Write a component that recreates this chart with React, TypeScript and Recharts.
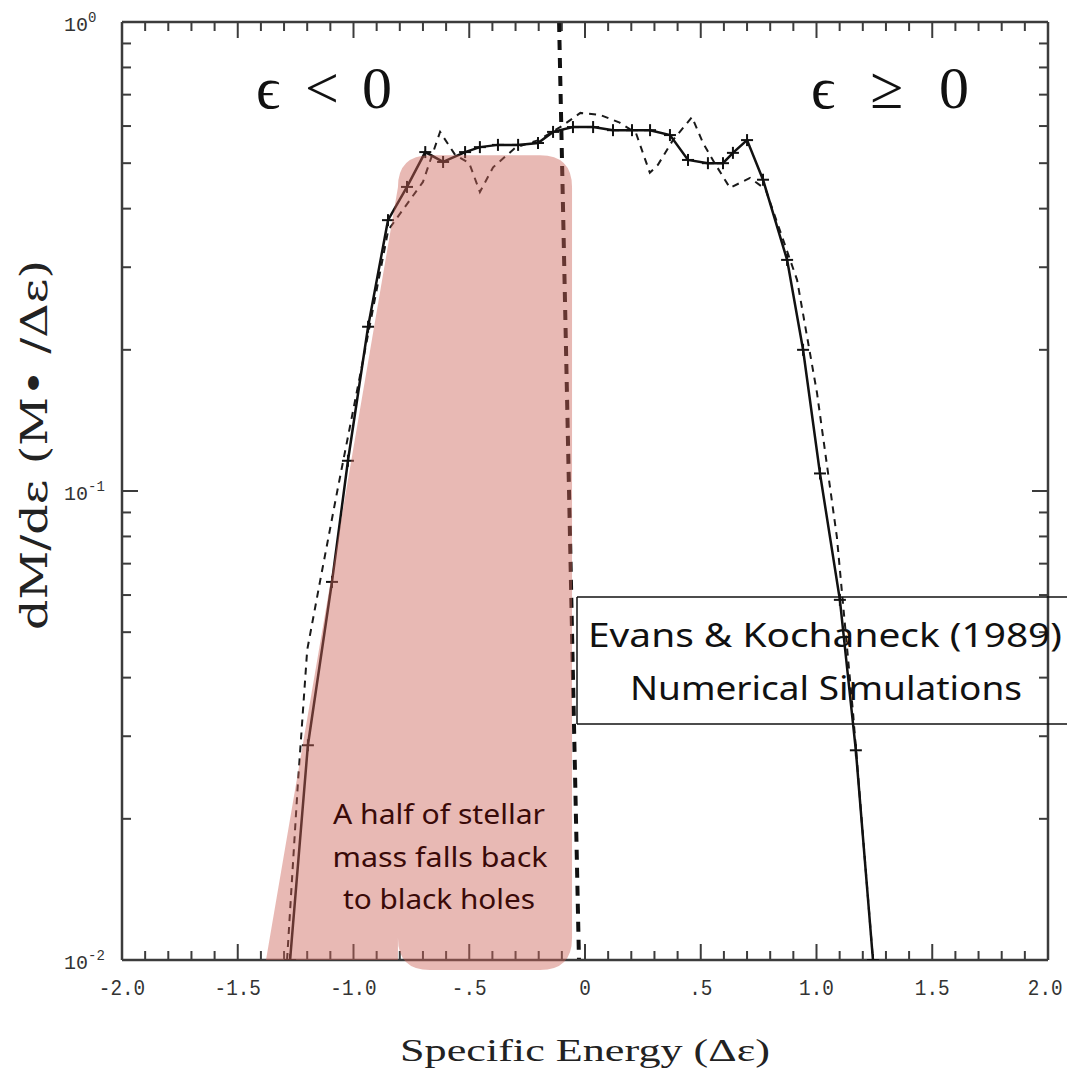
import { ComposedChart, Line, XAxis, YAxis, ReferenceArea, ReferenceLine } from 'recharts';

// Evans & Kochanek (1989) energy distribution of tidally disrupted debris
const solidEnergy = [
  -1.274, -1.197, -1.093, -1.024, -0.937, -0.851, -0.769, -0.69, -0.613, -0.518, -0.454,
  -0.376, -0.289, -0.203, -0.138, -0.052, 0.035, 0.121, 0.203, 0.281, 0.367, 0.445, 0.531,
  0.596, 0.639, 0.7, 0.769, 0.873, 0.942, 1.015, 1.101, 1.17, 1.244,
];
const solidMass = [
  0.01, 0.0287, 0.064, 0.116, 0.224, 0.378, 0.445, 0.528, 0.503, 0.528, 0.541,
  0.547, 0.547, 0.552, 0.583, 0.597, 0.597, 0.588, 0.588, 0.588, 0.574, 0.508, 0.5,
  0.5, 0.526, 0.56, 0.461, 0.311, 0.2, 0.109, 0.0586, 0.028, 0.01,
];

const dashedEnergy = [
  -1.287, -1.24, -1.2, -1.145, -1.07, -0.95, -0.85, -0.7, -0.626, -0.56, -0.5, -0.454,
  -0.397, -0.3, -0.2, -0.1, -0.02, 0.065, 0.15, 0.22, 0.25, 0.28, 0.315, 0.38, 0.462,
  0.51, 0.56, 0.626, 0.713, 0.78, 0.916, 1.002, 1.088, 1.158, 1.244,
];
const dashedMass = [
  0.01, 0.0239, 0.0458, 0.064, 0.1, 0.2, 0.36, 0.456, 0.583, 0.52, 0.5, 0.434,
  0.49, 0.54, 0.56, 0.6, 0.64, 0.634, 0.61, 0.58, 0.526, 0.477, 0.496, 0.56, 0.627,
  0.552, 0.5, 0.443, 0.465, 0.44, 0.282, 0.162, 0.0798, 0.0336, 0.01,
];

const X_MAJOR = [-2, -1.5, -1, -0.5, 0, 0.5, 1, 1.5, 2];
const X_LABELS = ['-2.0', '-1.5', '-1.0', '-.5', '0', '.5', '1.0', '1.5', '2.0'];
const X_MINOR = Array.from({ length: 41 }, (_, i) => +(-2 + i * 0.1).toFixed(1));
const Y_MINOR = [
  0.02, 0.03, 0.04, 0.05, 0.06, 0.07, 0.08, 0.09,
  0.1, 0.2, 0.3, 0.4, 0.5, 0.6, 0.7, 0.8, 0.9,
];
const Y_DECADES = [0.01, 0.1, 1];

// shaded "falls back" region, data coords
const FALLBACK = { x1: -0.808, x2: -0.056, top: 0.52, wedgeX: -1.378 };
const SPLIT_LINE = [
  { x: -0.112, y: 1 },
  { x: -0.026, y: 0.01 },
];

const W = 1067;
const H = 1073;
const PLOT_W = 926;
const PLOT_H = 938;
const PX_PER_X = PLOT_W / 4;
const PX_PER_DECADE = PLOT_H / 2;
const AXIS = '#3c3c3c';
const MINOR = 9;
const MAJOR = 16;
const X_LABEL_SIZE = 22;

const solidData = solidEnergy.map((x, i) => ({ x, y: solidMass[i] }));
const dashedData = dashedEnergy.map((x, i) => ({ x, y: dashedMass[i] }));

const isMajorX = (v: number) => X_MAJOR.some((m) => Math.abs(m - v) < 1e-6);
const isDecade = (v: number) => Y_DECADES.some((d) => Math.abs(d - v) < 1e-9);

// inward frame ticks on all four sides, as short segments in data space
const frameTicks: { x: number; y: number }[][] = [];
X_MINOR.forEach((v) => {
  const len = isMajorX(v) ? MAJOR : MINOR;
  const f = Math.pow(10, len / PX_PER_DECADE);
  frameTicks.push([{ x: v, y: 0.01 }, { x: v, y: 0.01 * f }]);
  frameTicks.push([{ x: v, y: 1 }, { x: v, y: 1 / f }]);
});
[...Y_MINOR, ...Y_DECADES].forEach((v) => {
  const len = (isDecade(v) ? MAJOR : MINOR) / PX_PER_X;
  frameTicks.push([{ x: -2, y: v }, { x: -2 + len, y: v }]);
  frameTicks.push([{ x: 2, y: v }, { x: 2 - len, y: v }]);
});

const XLabel = (props: any) => {
  const { x, y, payload } = props;
  const idx = X_MAJOR.findIndex((m) => Math.abs(m - payload.value) < 1e-6);
  if (idx < 0) return <g />;
  const label = X_LABELS[idx];
  const len = label.length * 11.6;
  // keep the last label inside the page (mono glyphs are 0.6em wide)
  const natural = label.length * 0.6 * X_LABEL_SIZE;
  const cx = Math.min(x, W - 2 - natural / 2);
  return (
    <text
      x={cx}
      y={y + 35}
      textAnchor="middle"
      fontFamily="'Liberation Mono', monospace"
      fontSize={X_LABEL_SIZE}
      fill="#333"
      textLength={len}
      lengthAdjust="spacingAndGlyphs"
    >
      {label}
    </text>
  );
};

const YLabel = (props: any) => {
  const { x, y, payload } = props;
  return (
    <text x={x - 58} y={y + 9} textAnchor="start" fontFamily="'Liberation Mono', monospace" fontSize={20} fill="#333">
      10
      <tspan dy={-9} fontSize={14}>
        {Math.round(Math.log10(payload.value))}
      </tspan>
    </text>
  );
};

const CrossDot = (props: any) => {
  const { cx, cy } = props;
  if (cx == null || cy == null) return null;
  return (
    <g>
      <line x1={cx - 6} x2={cx + 6} y1={cy} y2={cy} stroke="#111" strokeWidth={2} />
      <line x1={cx} x2={cx} y1={cy - 6} y2={cy + 6} stroke="#111" strokeWidth={2} />
    </g>
  );
};

const FallbackShape = (props: any) => {
  const { x, y, width, height } = props;
  const r = 32;
  const b = y + height;
  const ext = 10;
  const wedge = (FALLBACK.x1 - FALLBACK.wedgeX) * PX_PER_X;
  const d = [
    `M ${x - wedge} ${b}`,
    `L ${x} ${y + r}`,
    `Q ${x} ${y} ${x + r} ${y}`,
    `L ${x + width - r} ${y}`,
    `Q ${x + width} ${y} ${x + width} ${y + r}`,
    `L ${x + width} ${b + ext - r}`,
    `Q ${x + width} ${b + ext} ${x + width - r} ${b + ext}`,
    `L ${x + r} ${b + ext}`,
    `Q ${x} ${b + ext} ${x} ${b + ext - r}`,
    `L ${x} ${b}`,
    'Z',
  ].join(' ');
  return <path d={d} fill="rgba(204,99,88,0.45)" stroke="none" />;
};

const serif = "'Liberation Serif', 'DejaVu Serif', serif";
const sans = "'Noto Sans', 'DejaVu Sans', sans-serif";
const frame = { stroke: AXIS, strokeWidth: 2.5 };

export default function App() {
  return (
    <div style={{ position: 'absolute', left: 0, top: 0, width: W, height: H, background: '#fff' }}>
      <ComposedChart width={W} height={H} margin={{ top: 21, right: 18, bottom: 73, left: 62 }}>
        <XAxis
          dataKey="x"
          type="number"
          domain={[-2, 2]}
          allowDataOverflow
          ticks={X_MAJOR}
          interval={0}
          tickSize={0}
          tickMargin={0}
          tickLine={false}
          height={40}
          axisLine={frame}
          tick={<XLabel />}
        />
        <XAxis
          xAxisId="top"
          orientation="top"
          type="number"
          domain={[-2, 2]}
          allowDataOverflow
          tick={false}
          tickLine={false}
          height={1}
          axisLine={frame}
        />
        <YAxis
          type="number"
          scale="log"
          domain={[0.01, 1]}
          allowDataOverflow
          ticks={Y_DECADES}
          interval={0}
          tickSize={0}
          tickMargin={0}
          tickLine={false}
          width={60}
          axisLine={frame}
          tick={<YLabel />}
        />
        <YAxis
          yAxisId="right"
          orientation="right"
          type="number"
          scale="log"
          domain={[0.01, 1]}
          allowDataOverflow
          tick={false}
          tickLine={false}
          width={1}
          axisLine={frame}
        />
        {frameTicks.map((seg, i) => (
          <ReferenceLine key={`t${i}`} segment={seg} stroke={AXIS} strokeWidth={2} ifOverflow="visible" />
        ))}
        <Line
          data={dashedData}
          dataKey="y"
          type="linear"
          stroke="#1a1a1a"
          strokeWidth={2}
          strokeDasharray="7 6"
          dot={false}
          activeDot={false}
          isAnimationActive={false}
        />
        <Line
          data={solidData}
          dataKey="y"
          type="linear"
          stroke="#111"
          strokeWidth={2.5}
          dot={(p: any) => <CrossDot key={`c${p.index}`} {...p} />}
          activeDot={false}
          isAnimationActive={false}
        />
        <ReferenceLine
          segment={SPLIT_LINE}
          stroke="#111"
          strokeWidth={4}
          strokeDasharray="10 8"
          ifOverflow="visible"
        />
      </ComposedChart>

      {/* second layer, same scales, so the shading sits over the curves */}
      <div style={{ position: 'absolute', left: 0, top: 0 }}>
        <ComposedChart width={W} height={H} margin={{ top: 22, right: 19, bottom: 113, left: 122 }}>
          <XAxis dataKey="x" type="number" domain={[-2, 2]} allowDataOverflow hide />
          <YAxis type="number" scale="log" domain={[0.01, 1]} allowDataOverflow hide />
          <Line data={solidData} dataKey="y" stroke="none" dot={false} activeDot={false} isAnimationActive={false} />
          <ReferenceArea
            x1={FALLBACK.x1}
            x2={FALLBACK.x2}
            y1={0.01}
            y2={FALLBACK.top}
            ifOverflow="visible"
            shape={(p: any) => <FallbackShape {...p} />}
          />
        </ComposedChart>
      </div>

      <svg width={W} height={H} style={{ position: 'absolute', left: 0, top: 0, pointerEvents: 'none' }}>
        {/* epsilon regions */}
        <g fontFamily={serif} fontSize={60} fill="#111">
          <text x={256} y={108}>ϵ</text>
          <text x={322} y={108} textAnchor="middle">&lt;</text>
          <text x={377} y={108} textAnchor="middle">0</text>
          <text x={811} y={108}>ϵ</text>
          <text x={887} y={108} textAnchor="middle">≥</text>
          <text x={954} y={108} textAnchor="middle">0</text>
        </g>

        {/* source box */}
        <g stroke="#111" strokeWidth={1.5}>
          <line x1={577} x2={W} y1={597} y2={597} />
          <line x1={577} x2={W} y1={724} y2={724} />
          <line x1={577} x2={577} y1={597} y2={724} />
        </g>
        <g fontFamily={sans} fontSize={32} fill="#111" textAnchor="middle">
          <text x={825} y={647} textLength={474} lengthAdjust="spacingAndGlyphs">Evans &amp; Kochaneck (1989)</text>
          <text x={826} y={700} textLength={392} lengthAdjust="spacingAndGlyphs">Numerical Simulations</text>
        </g>

        {/* shaded region note */}
        <g fontFamily={sans} fontSize={27} fill="#3a0a08" textAnchor="middle">
          <text x={439} y={824} textLength={212} lengthAdjust="spacingAndGlyphs">A half of stellar</text>
          <text x={440} y={867} textLength={215} lengthAdjust="spacingAndGlyphs">mass falls back</text>
          <text x={439} y={909} textLength={192} lengthAdjust="spacingAndGlyphs">to black holes</text>
        </g>

        {/* axis titles */}
        <text x={585} y={1061} textAnchor="middle" fontFamily={serif} fontSize={31} fill="#222" textLength={370} lengthAdjust="spacingAndGlyphs">
          Specific Energy (Δε)
        </text>
        <text
          transform="translate(47 445) rotate(-90)"
          textAnchor="middle"
          fontFamily="'DejaVu Serif', serif"
          fontSize={38}
          fill="#222"
          textLength={370}
          lengthAdjust="spacingAndGlyphs"
        >
          dM/dε (M• /Δε)
        </text>
      </svg>
    </div>
  );
}
